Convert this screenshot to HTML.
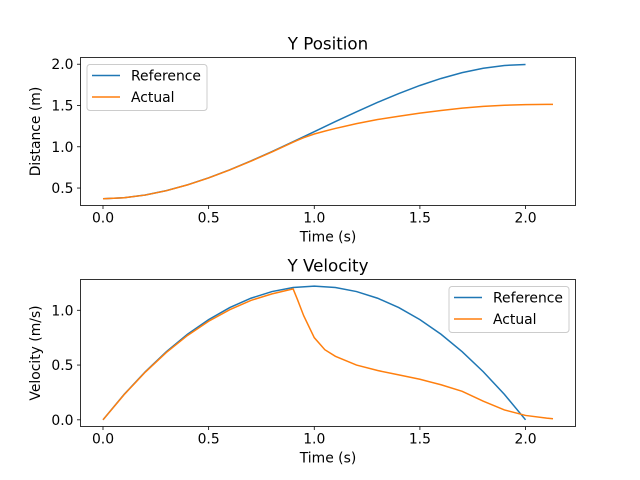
<!DOCTYPE html>
<html><head><meta charset="utf-8"><style>
body{margin:0;background:#fff}
svg{display:block;font-family:"DejaVu Sans","Liberation Sans",sans-serif}
</style></head><body>
<svg id="c" width="640" height="480"></svg>
<script>
const times=[0,0.1,0.2,0.3,0.4,0.5,0.6,0.7,0.8,0.9,1.0,1.1,1.2,1.3,1.4,1.5,1.6,1.7,1.8,1.9,2.0];
const refPos=[0.37,0.382,0.4155,0.4688,0.5392,0.6242,0.7214,0.8283,0.9426,1.0617,1.1833,1.3049,1.424,1.5384,1.6453,1.7425,1.8275,1.8978,1.9511,1.9849,1.9967];
const refVel=[0,0.232,0.439,0.622,0.781,0.915,1.025,1.11,1.171,1.208,1.22,1.208,1.171,1.11,1.025,0.915,0.781,0.622,0.439,0.232,0];
const actTimes=[0,0.1,0.2,0.3,0.4,0.5,0.6,0.7,0.8,0.9,0.92,0.95,1.0,1.05,1.1,1.2,1.3,1.4,1.5,1.6,1.7,1.8,1.9,2.0,2.1,2.13];
const actPos=[0.37,0.382,0.415,0.468,0.538,0.622,0.719,0.825,0.938,1.056,1.078,1.11,1.155,1.19,1.222,1.28,1.33,1.37,1.408,1.44,1.468,1.49,1.503,1.51,1.513,1.513];
const actVel=[0,0.23,0.435,0.615,0.77,0.9,1.005,1.09,1.15,1.195,1.1,0.95,0.75,0.64,0.58,0.5,0.45,0.41,0.37,0.32,0.26,0.17,0.09,0.04,0.015,0.01];
const xTicks=[0,0.5,1,1.5,2];
const xTickLabels=["0.0","0.5","1.0","1.5","2.0"];
const posTicks=[0.5,1,1.5,2];
const posTickLabels=["0.5","1.0","1.5","2.0"];
const velTicks=[0,0.5,1];
const velTickLabels=["0.0","0.5","1.0"];

const svg=document.getElementById('c');const NS='http://www.w3.org/2000/svg';
function mk(t,a,p){const e=document.createElementNS(NS,t);for(const k in a)e.setAttribute(k,a[k]);(p||svg).appendChild(e);return e;}
const L=80.5,R=575.5;
const sx=v=>L+(v+0.1065)/(2.343)*(R-L);
function panel(top,bot,y0,y1,name,title,ylabel,yt,ytl,series){
  const sy=v=>bot-(v-y0)/(y1-y0)*(bot-top);
  const g=mk('g',{});
  series.forEach(s=>{
    const d=s.x.map((t,i)=>(i?'L':'M')+sx(t).toFixed(2)+','+sy(s.y[i]).toFixed(2)).join('');
    const p=mk('path',{d:d,fill:'none',stroke:s.c,'stroke-width':1.5},g);
    
  });
  const fr=mk('rect',{x:L,y:top,width:R-L,height:bot-top,fill:'none',stroke:'#000','stroke-width':0.8},g);
  
  xTicks.forEach((t,i)=>{mk('line',{x1:sx(t),x2:sx(t),y1:bot,y2:bot+3.5,stroke:'#000','stroke-width':0.8},g);
    const tx=mk('text',{x:sx(t),y:bot+17,'text-anchor':'middle','font-size':13.9},g);tx.textContent=xTickLabels[i];
    });
  yt.forEach((t,i)=>{mk('line',{x1:L,x2:L-3.5,y1:sy(t),y2:sy(t),stroke:'#000','stroke-width':0.8},g);
    const tx=mk('text',{x:L-7,y:sy(t)+5,'text-anchor':'end','font-size':13.9},g);tx.textContent=ytl[i];
    });
  const xl=mk('text',{x:(L+R)/2,y:bot+36,'text-anchor':'middle','font-size':13.9},g);xl.textContent='Time (s)';
  
  const yx=40,yy=(top+bot)/2;
  const yl=mk('text',{x:yx,y:yy,'text-anchor':'middle','font-size':13.9,transform:`rotate(-90 ${yx} ${yy})`},g);yl.textContent=ylabel;
  
  const ti=mk('text',{x:(L+R)/2,y:top-8,'text-anchor':'middle','font-size':16.7},g);ti.textContent=title;
  
}
function legend(x,y){
  const g=mk('g',{});
  mk('rect',{x:x,y:y,width:120,height:46,rx:3,fill:'#fff','fill-opacity':0.8,stroke:'#ccc','stroke-width':1},g);
  [['Reference','#1f77b4'],['Actual','#ff7f0e']].forEach((e,i)=>{
    const eg=mk('g',{},g);
    const cy=y+11+i*21.5;
    mk('line',{x1:x+5,x2:x+33,y1:cy,y2:cy,stroke:e[1],'stroke-width':1.5},eg);
    const t=mk('text',{x:x+44,y:cy+5,'font-size':13.9},eg);t.textContent=e[0];
  });
}
panel(57.5,205.5,0.2885,2.0815,'position-panel','Y Position','Distance (m)',posTicks,posTickLabels,
 [{x:times,y:refPos,c:'#1f77b4',n:'reference-position-line'},{x:actTimes,y:actPos,c:'#ff7f0e',n:'actual-position-line'}]);
legend(87,64.5);
panel(279.5,426.5,-0.061,1.281,'velocity-panel','Y Velocity','Velocity (m/s)',velTicks,velTickLabels,
 [{x:times,y:refVel,c:'#1f77b4',n:'reference-velocity-line'},{x:actTimes,y:actVel,c:'#ff7f0e',n:'actual-velocity-line'}]);
legend(449,286.5);
</script>
</body></html>
